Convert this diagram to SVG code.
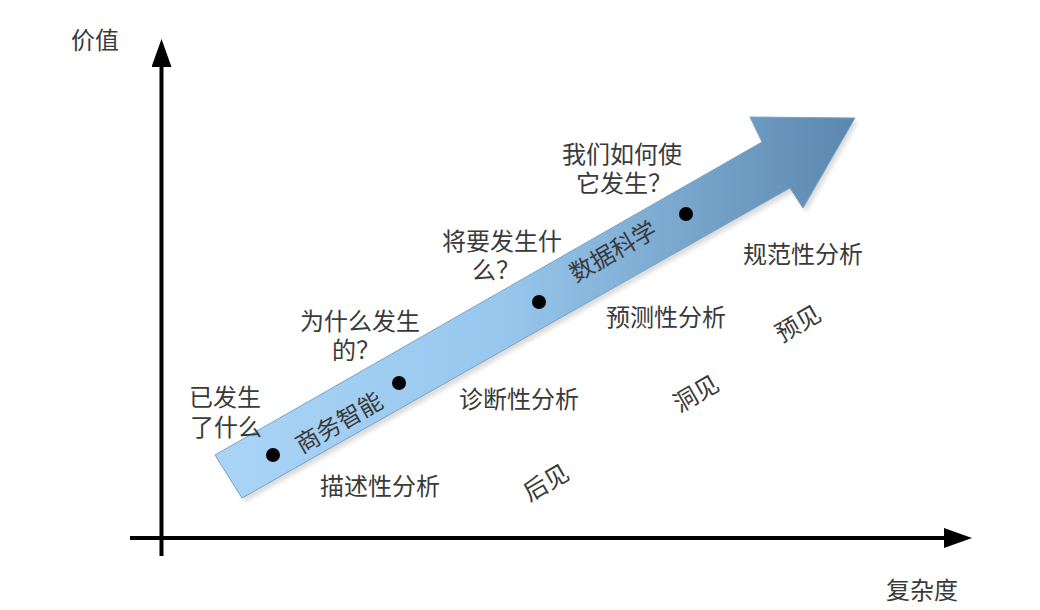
<svg xmlns="http://www.w3.org/2000/svg" width="1040" height="610" viewBox="0 0 1040 610">
<defs>
<linearGradient id="arrowGrad" gradientUnits="userSpaceOnUse" x1="215" y1="0" x2="855" y2="0">
<stop offset="0" stop-color="#a9d4f6"/>
<stop offset="0.45" stop-color="#98c7ee"/>
<stop offset="1" stop-color="#5b87ae"/>
</linearGradient>
<filter id="shadow" x="-10%" y="-10%" width="120%" height="120%">
<feGaussianBlur stdDeviation="2"/>
</filter>
<marker id="axisHead" viewBox="0 0 28 20" refX="0" refY="10" markerWidth="7" markerHeight="5" orient="auto" markerUnits="strokeWidth">
<path d="M0,0 L28,10 L0,20 Z" fill="#000"/>
</marker>
<style>
.t{font-family:"Noto Sans CJK SC","Noto Sans",sans-serif;font-size:24px;fill:#3a3a3a;text-anchor:middle;dominant-baseline:central}
.dot{fill:#000}
</style>
</defs>
<rect width="1040" height="610" fill="#fff"/>
<g id="axes">
<line x1="161.5" y1="556" x2="161.5" y2="67" stroke="#000" stroke-width="4" marker-end="url(#axisHead)"/>
<line x1="130" y1="538" x2="944" y2="538" stroke="#000" stroke-width="4" marker-end="url(#axisHead)"/>
</g>
<g id="big-arrow">
<polygon points="218,459 765,146 753,121 858,122 806,212 793,192 245,502" fill="#999" opacity="0.35" filter="url(#shadow)"/>
<polygon points="215,455 762,142 750,117 855,118 803,208 790,188 242,498" fill="url(#arrowGrad)" stroke="#7aa3c7" stroke-width="1"/>
</g>
<g id="dots">
<circle class="dot" cx="273" cy="455" r="7"/>
<circle class="dot" cx="399" cy="383" r="7"/>
<circle class="dot" cx="539" cy="302" r="7"/>
<circle class="dot" cx="686" cy="214" r="7"/>
</g>
<g id="labels">
<text class="t" x="95" y="38">价值</text>
<text class="t" x="922" y="588">复杂度</text>
<text class="t"><tspan x="225" y="395">已发生</tspan><tspan x="226" y="425">了什么</tspan></text>
<text class="t"><tspan x="360" y="319">为什么发生</tspan><tspan x="356" y="348">的？</tspan></text>
<text class="t"><tspan x="502" y="239">将要发生什</tspan><tspan x="496" y="268">么？</tspan></text>
<text class="t"><tspan x="622" y="152">我们如何使</tspan><tspan x="624" y="181">它发生？</tspan></text>
<text class="t" x="803" y="252">规范性分析</text>
<text class="t" x="666" y="315">预测性分析</text>
<text class="t" x="519" y="397">诊断性分析</text>
<text class="t" x="380" y="484">描述性分析</text>
<text class="t" transform="translate(338,421) rotate(-30)">商务智能</text>
<text class="t" transform="translate(612,250) rotate(-30)">数据科学</text>
<text class="t" transform="translate(545,481) rotate(-30)">后见</text>
<text class="t" transform="translate(695,392) rotate(-30)">洞见</text>
<text class="t" transform="translate(797,322) rotate(-30)">预见</text>
</g>
</svg>
